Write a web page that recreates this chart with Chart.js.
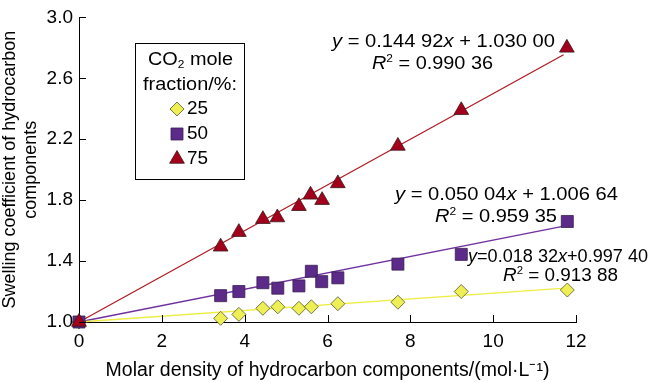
<!DOCTYPE html>
<html>
<head>
<meta charset="utf-8">
<script src="https://cdn.jsdelivr.net/npm/chart.js@4/dist/chart.umd.min.js"></script>
<style>
  html, body { margin: 0; padding: 0; background: #fff; }
  #wrap { width: 650px; height: 382px; position: relative; }
</style>
</head>
<body>
<div id="wrap"><canvas id="c" width="650" height="382"></canvas></div>
<script>
// ---- data ----
const seriesNames = ['25', '50', '75'];
const xTicks = [0, 2, 4, 6, 8, 10, 12];
const yTicks = [1.0, 1.4, 1.8, 2.2, 2.6, 3.0];

const x25 = [0, 3.42, 3.86, 4.44, 4.80, 5.31, 5.61, 6.25, 7.70, 9.23, 11.79];
const y25 = [1.0, 1.024, 1.05, 1.09, 1.10, 1.09, 1.10, 1.12, 1.13, 1.20, 1.21];

const x50 = [0, 3.42, 3.86, 4.44, 4.80, 5.31, 5.61, 5.86, 6.25, 7.70, 9.23, 11.79];
const y50 = [1.0, 1.173, 1.20, 1.258, 1.222, 1.237, 1.333, 1.265, 1.29, 1.38, 1.444, 1.66];

const x75 = [0, 3.42, 3.86, 4.44, 4.79, 5.31, 5.59, 5.87, 6.25, 7.70, 9.23, 11.78];
const y75 = [1.0, 1.494, 1.59, 1.675, 1.686, 1.76, 1.835, 1.80, 1.91, 2.156, 2.39, 2.80];

// fitted trend lines (end points)
const fitX25 = [0, 11.75]; const fitY25 = [1.0, 1.222];
const fitX50 = [0, 11.8];  const fitY50 = [1.0, 1.635];
const fitX75 = [0, 11.7];  const fitY75 = [1.0, 2.755];

const eq25 = ['y=0.018 32x+0.997 40', '0.913 88'];
const eq50 = ['y = 0.050 04x + 1.006 64', '0.959 35'];
const eq75 = ['y = 0.144 92x + 1.030 00', '0.990 36'];

const xTitle = 'Molar density of hydrocarbon components/(mol·L\u207B\u00B9)';
const yTitle = ['Swelling coefficient of hydrocarbon', 'components'];
const legendTitle = ['CO', '2', ' mole', 'fraction/%:'];

// ---- build ----
const pts = (xs, ys) => xs.map((x, i) => ({ x: x, y: ys[i] }));
const FONT = '"Liberation Sans", Arial, Helvetica, sans-serif';

const colors = {
  '25': { fill: '#eeee55', line: '#eded45', border: '#555533' },
  '50': { fill: '#5c2a88', line: '#7030a0', border: '#3a2050' },
  '75': { fill: '#a3001c', line: '#b01c24', border: '#3a1a1a' }
};

const datasets = [
  { type: 'line', label: 'fit25', data: pts(fitX25, fitY25), borderColor: colors['25'].line, borderWidth: 1.3, pointRadius: 0, order: 10, clip: false },
  { type: 'line', label: 'fit50', data: pts(fitX50, fitY50), borderColor: colors['50'].line, borderWidth: 1.3, pointRadius: 0, order: 10, clip: false },
  { type: 'line', label: 'fit75', data: pts(fitX75, fitY75), borderColor: colors['75'].line, borderWidth: 1.3, pointRadius: 0, order: 10, clip: false },
  { type: 'scatter', label: seriesNames[0], data: pts(x25, y25), pointStyle: 'rectRot', pointRadius: 7, backgroundColor: colors['25'].fill, borderColor: colors['25'].border, borderWidth: 0.8, order: 3, clip: false },
  { type: 'scatter', label: seriesNames[1], data: pts(x50, y50), pointStyle: 'rect', pointRadius: 8.5, backgroundColor: colors['50'].fill, borderColor: colors['50'].border, borderWidth: 0.8, order: 2, clip: false },
  { type: 'scatter', label: seriesNames[2], data: pts(x75, y75), pointStyle: 'triangle', pointRadius: 8.5, backgroundColor: colors['75'].fill, borderColor: colors['75'].border, borderWidth: 0.8, order: 1, clip: false }
];

const S = 17.5;
function segWidth(ctx, segs, size) {
  let w = 0;
  segs.forEach(s => {
    const sz = (s.sup || s.sub) ? size * 0.6 : size;
    ctx.font = (s.i ? 'italic ' : '') + sz + 'px ' + FONT;
    w += ctx.measureText(s.t).width;
  });
  return w;
}
// draw rich text stretched horizontally to fill [x, x+targetW]
function drawRich(ctx, segs, x, y, size, targetW) {
  const natural = segWidth(ctx, segs, size);
  const sx = targetW ? targetW / natural : 1;
  ctx.save();
  ctx.translate(x, y);
  ctx.scale(sx, 1);
  ctx.textBaseline = 'middle';
  ctx.textAlign = 'left';
  let cx = 0;
  segs.forEach(s => {
    const sz = (s.sup || s.sub) ? size * 0.6 : size;
    ctx.font = (s.i ? 'italic ' : '') + sz + 'px ' + FONT;
    const dy = s.sup ? -size * 0.3 : (s.sub ? size * 0.3 : 0);
    ctx.fillText(s.t, cx, dy);
    cx += ctx.measureText(s.t).width;
  });
  ctx.restore();
}
function eqSegs(str) {
  const out = [];
  let buf = '';
  for (const ch of str) {
    if (ch === 'x' || ch === 'y') {
      if (buf) out.push({ t: buf });
      out.push({ t: ch, i: true });
      buf = '';
    } else buf += ch;
  }
  if (buf) out.push({ t: buf });
  return out;
}
function r2Segs(val) {
  return [{ t: 'R', i: true }, { t: '2', sup: true }, { t: ' = ' + val }];
}

const decor = {
  id: 'decor',
  afterDraw(chart) {
    const ctx = chart.ctx;
    const xs = chart.scales.x, ys = chart.scales.y;
    ctx.save();
    // inward tick marks
    ctx.strokeStyle = '#000';
    ctx.lineWidth = 1;
    xTicks.forEach(v => {
      if (v === 0) return;
      const px = Math.round(xs.getPixelForValue(v)) + 0.5;
      ctx.beginPath(); ctx.moveTo(px, ys.bottom); ctx.lineTo(px, ys.bottom - 7); ctx.stroke();
    });
    yTicks.forEach(v => {
      const py = Math.round(ys.getPixelForValue(v)) + 0.5;
      ctx.beginPath(); ctx.moveTo(xs.left, py); ctx.lineTo(xs.left + 7, py); ctx.stroke();
    });

    // equations
    ctx.fillStyle = '#000';
    drawRich(ctx, eqSegs(eq75[0]), 332, 42, S, 223);
    drawRich(ctx, r2Segs(eq75[1]), 372, 64, S, 121);
    drawRich(ctx, eqSegs(eq50[0]), 395, 195, S, 223);
    drawRich(ctx, r2Segs(eq50[1]), 435, 217, S, 122);
    drawRich(ctx, eqSegs(eq25[0]), 468, 257, S, 180);
    drawRich(ctx, r2Segs(eq25[1]), 503, 276, S, 115);

    // legend box
    ctx.strokeStyle = '#000';
    ctx.lineWidth = 1;
    ctx.strokeRect(135.5, 43.5, 109, 136);
    drawRich(ctx, [{ t: legendTitle[0] }, { t: legendTitle[1], sub: true }, { t: legendTitle[2] }], 148, 60, S, 85);
    drawRich(ctx, [{ t: legendTitle[3] }], 143, 85, S, 94);
    const rowsY = [109, 134, 159];
    [3, 4, 5].forEach((di, k) => {
      const ds = chart.data.datasets[di];
      const py = rowsY[k];
      ctx.fillStyle = ds.backgroundColor;
      ctx.strokeStyle = ds.borderColor;
      ctx.lineWidth = ds.borderWidth;
      Chart.helpers.drawPoint(ctx, { pointStyle: ds.pointStyle, radius: ds.pointRadius, rotation: 0, borderWidth: ds.borderWidth }, 177, py);
      ctx.fillStyle = '#000';
      drawRich(ctx, [{ t: ds.label }], 187, py, S, 21);
    });
    ctx.restore();
  }
};

new Chart(document.getElementById('c'), {
  type: 'scatter',
  data: { datasets: datasets },
  options: {
    responsive: false,
    animation: false,
    layout: { padding: { left: 0, top: 10, right: 74, bottom: 0 } },
    plugins: { legend: { display: false }, tooltip: { enabled: false } },
    scales: {
      x: {
        type: 'linear', min: 0, max: 12,
        afterBuildTicks: s => { s.ticks = xTicks.map(v => ({ value: v })); },
        afterFit: s => { s.height = 60; },
        grid: { display: false, drawTicks: false },
        border: { color: '#000', width: 1 },
        ticks: { color: '#000', font: { family: FONT, size: 19 }, padding: 8, maxRotation: 0 },
        title: { display: true, text: xTitle, color: '#000', font: { family: FONT, size: 19.5 }, padding: { top: 1, bottom: 0 } }
      },
      y: {
        type: 'linear', min: 1.0, max: 3.0,
        afterBuildTicks: s => { s.ticks = yTicks.map(v => ({ value: v })); },
        afterFit: s => { s.width = 79; },
        grid: { display: false, drawTicks: false },
        border: { color: '#000', width: 1 },
        ticks: { color: '#000', font: { family: FONT, size: 19 }, padding: 6, callback: v => Number(v).toFixed(1) },
        title: { display: true, text: yTitle, color: '#000', font: { family: FONT, size: 18, lineHeight: 1.15 }, padding: { top: 0, bottom: 0 } }
      }
    }
  },
  plugins: [decor]
});
</script>
</body>
</html>
